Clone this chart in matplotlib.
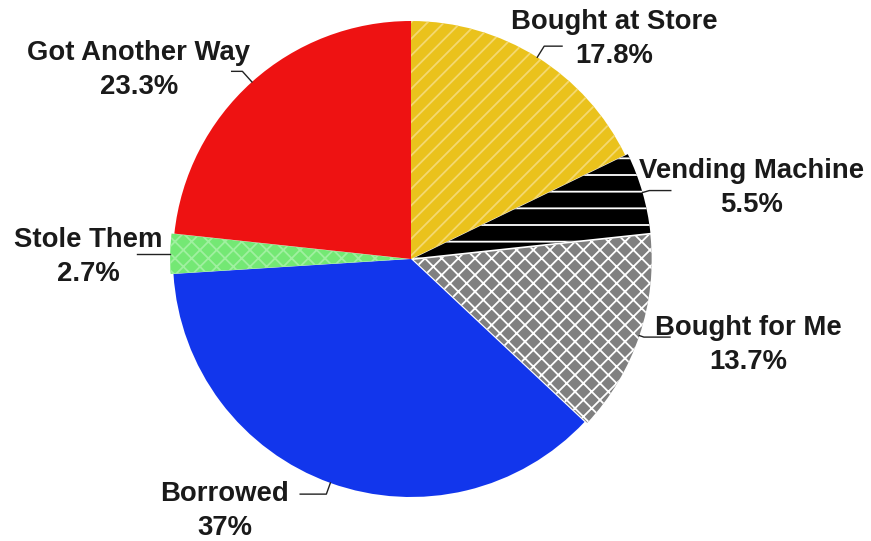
import numpy as np
import matplotlib
matplotlib.use("Agg")
import matplotlib.pyplot as plt

# Slice data, clockwise from 12 o'clock
labels = ["Bought at Store", "Vending Machine", "Bought for Me",
          "Borrowed", "Stole Them", "Got Another Way"]
shares = [17.8, 5.5, 13.7, 37.0, 2.7, 23.3]
pct_text = ["17.8%", "5.5%", "13.7%", "37%", "2.7%", "23.3%"]

# Styling per slice
face_colors = ["#EAC21C", "#000000", "#808080", "#1236EC", "#74E874", "#EE1212"]
hatch_colors = ["#F4D870", "#FFFFFF", "#FFFFFF", "#1236EC", "#A0F0A0", "#EE1212"]
hatches = ["//", "-", "xx", "", "xx", ""]
explode = [0, 0.012, 0.012, 0, 0.012, 0]

# label placement (data units, pie radius = 1) and leader geometry
label_xy = [(0.853, 0.925), (1.433, 0.30), (1.416, -0.36),
            (-0.782, -1.06), (-1.357, 0.01), (-1.143, 0.795)]
elbow_r = [1.055, 1.03, 1.02, 1.05, 1.0, 1.06]
tail = [0.075, 0.09, 0.11, -0.11, -0.14, -0.045]

plt.rcParams["hatch.linewidth"] = 1.3
plt.rcParams["font.family"] = ["Liberation Sans", "DejaVu Sans"]

fig = plt.figure(figsize=(8.71, 5.41), dpi=100)
ax = fig.add_axes([173 / 871, 44 / 541, 476 / 871, 476 / 541])

wedges, _ = ax.pie(shares, startangle=90, counterclock=False,
                   colors=face_colors, explode=explode, hatch=hatches,
                   wedgeprops=dict(linewidth=0))
for w, hc in zip(wedges, hatch_colors):
    w.set_edgecolor(hc)
    w.set_linewidth(0)

for w, name, pct, (tx, ty), er, tl in zip(wedges, labels, pct_text,
                                          label_xy, elbow_r, tail):
    mid = np.deg2rad((w.theta1 + w.theta2) / 2)
    cx, cy = w.center
    x0, y0 = cx + np.cos(mid), cy + np.sin(mid)
    x1, y1 = cx + er * np.cos(mid), cy + er * np.sin(mid)
    ax.plot([x0, x1, x1 + tl], [y0, y1, y1], color="#222222",
            lw=1.0, clip_on=False)
    ax.text(tx, ty, f"{name}\n{pct}", ha="center", va="center",
            multialignment="center", fontsize=19.8, fontweight="bold",
            color="#1a1a1a", linespacing=1.4, clip_on=False)

ax.set_xlim(-1, 1)
ax.set_ylim(-1, 1)
ax.set_aspect("auto")
ax.axis("off")

fig.savefig("out.png", dpi=100)
